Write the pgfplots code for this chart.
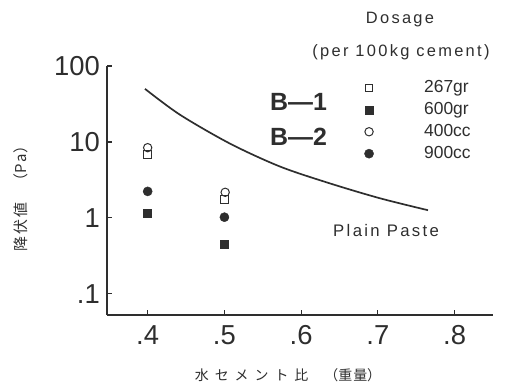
\documentclass[border=0pt]{standalone}
\usepackage{fontspec}
\setmainfont{Liberation Sans}
\newfontfamily\cjk{Noto Sans CJK JP}
\newfontfamily\wide[LetterSpace=14]{Liberation Sans}
\usepackage{pgfplots}
\pgfplotsset{compat=1.18}
\definecolor{ink}{gray}{0.18}
\begin{document}
\begin{tikzpicture}[x=1bp,y=1bp]
\begin{axis}[
  at={(0,0)}, anchor=south west,
  scale only axis, width=386bp, height=249bp,
  xmin=0.347, xmax=0.85, ymode=log, ymin=0.0525, ymax=100,
  axis lines=left, axis line style={-, line width=1.2pt, ink},
  tick align=inside, major tick length=5bp, tick style={line width=1.2pt, ink},
  xtick={0.4,0.5,0.6,0.7,0.8}, xticklabels={.4,.5,.6,.7,.8},
  ytick={0.1,1,10,100}, yticklabels={.1,1,10,100},
  yminorticks=false, xminorticks=false,
  tick label style={font=\fontsize{27.5}{28}\selectfont, text=ink},
  xticklabel style={inner sep=0pt, yshift=-10bp},
  yticklabel style={inner sep=0pt, xshift=-7bp},
  legend style={draw=none, fill=none, at={(0.667,0.956)}, anchor=north west,
    inner sep=0pt, outer sep=0pt, row sep=0pt, column sep=47.5bp,
    nodes={inner sep=3pt, text height=12.5pt, text depth=3.5pt, anchor=west},
    font=\fontsize{17.5}{18}\selectfont, text=ink},
  legend cell align=left,
  clip=false,
]
\addplot[only marks, mark=square, mark size=3.8pt, ink, mark options={line width=1pt}] coordinates {(0.4,6.8)(0.5,1.75)};
\addlegendentry{267gr}
\addplot[only marks, mark=square*, mark size=4pt, ink] coordinates {(0.4,1.15)(0.5,0.45)};
\addlegendentry{600gr}
\addplot[only marks, mark=o, mark size=4.2pt, ink, mark options={line width=1pt}] coordinates {(0.4,8.4)(0.501,2.17)};
\addlegendentry{400cc}
\addplot[only marks, mark=*, mark size=4.6pt, ink] coordinates {(0.4,2.23)(0.5,1.02)};
\addlegendentry{900cc}
\addplot[smooth, line width=1.7pt, ink, no markers] coordinates {
(0.3965,50.0)(0.4421,22.8)(0.5073,9.5)(0.5724,4.74)(0.6376,2.84)(0.7027,1.81)(0.7653,1.26)};
\end{axis}
\node[font={\wide\fontsize{16.5}{18}\selectfont}, text=ink] at (293,295) {Dosage};
\node[font={\wide\fontsize{16.5}{18}\selectfont}, text=ink] at (294,263) {(per 100kg cement)};
\node[font={\bfseries\fontsize{25}{26}\selectfont}, text=ink, anchor=west, inner sep=0pt] at (163,213) {B—1};
\node[font={\bfseries\fontsize{25}{26}\selectfont}, text=ink, anchor=west, inner sep=0pt] at (163,178) {B—2};
\node[font={\wide\fontsize{16.8}{18}\selectfont}, text=ink, anchor=west, inner sep=0pt] at (226,84) {Plain Paste};
\node[font={\cjk\fontsize{15}{16}\selectfont}, text=ink, rotate=90] at (-86,120) {降\hspace{2pt}伏\hspace{2pt}値\hspace{14pt}（P\hspace{2pt}a）};
\node[font={\cjk\fontsize{14}{16}\selectfont}, text=ink] at (181,-60) {水\hspace{6pt}セ\hspace{6pt}メ\hspace{6pt}ン\hspace{6pt}ト\hspace{6pt}比\hspace{16pt}（重\hspace{1pt}量）};
\pgfresetboundingbox
\path[use as bounding box] (-107,-71) rectangle (398,315);
\end{tikzpicture}
\end{document}
